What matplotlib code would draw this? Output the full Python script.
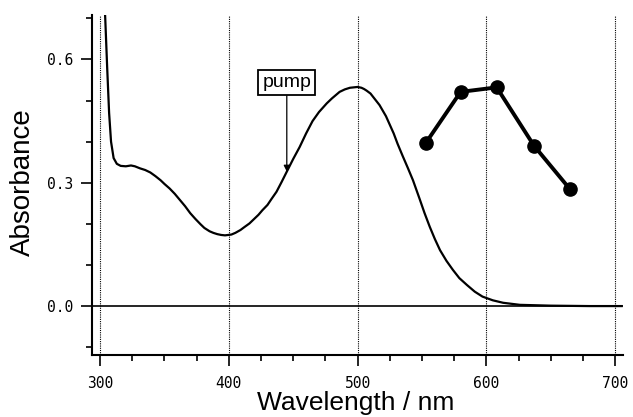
import matplotlib
matplotlib.use("Agg")
import matplotlib.pyplot as plt
from matplotlib.ticker import MultipleLocator

# Absorption spectrum
wavelength = [302.5, 304, 305.5, 307, 308.5, 310.5, 313, 316, 320, 324, 327, 331, 335, 339,
              343, 347, 350, 354, 358, 362, 366, 370, 374, 378, 381, 385, 388, 391, 394, 397,
              402, 405, 409, 412, 416, 419, 423, 426, 430, 433, 437, 441, 445, 450, 455, 460,
              465, 470, 476, 480, 486, 490, 494, 497, 500, 503, 505, 507, 510, 513, 517, 522,
              528, 531, 535, 539, 543, 548, 552, 556, 560, 564, 569, 574, 579, 585, 591, 597,
              605, 613, 626, 650, 680, 705]
absorbance = [0.80, 0.70, 0.58, 0.47, 0.40, 0.36, 0.346, 0.341, 0.340, 0.342, 0.340, 0.335, 0.331, 0.325,
              0.316, 0.306, 0.297, 0.286, 0.273, 0.258, 0.243, 0.226, 0.212, 0.199, 0.190, 0.182, 0.178, 0.175, 0.173, 0.172,
              0.174, 0.178, 0.185, 0.192, 0.201, 0.210, 0.222, 0.233, 0.246, 0.260, 0.278, 0.302, 0.327, 0.358, 0.387, 0.420,
              0.450, 0.472, 0.493, 0.505, 0.521, 0.527, 0.531, 0.532, 0.533, 0.531, 0.528, 0.524, 0.517, 0.505, 0.489, 0.462,
              0.420, 0.395, 0.365, 0.336, 0.306, 0.262, 0.226, 0.193, 0.163, 0.136, 0.110, 0.088, 0.068, 0.051, 0.035, 0.023,
              0.014, 0.008, 0.003, 0.001, 0.0, 0.0]

# Probe points (filled circles)
probe_wl = [553, 580, 608, 637, 665]
probe_abs = [0.397, 0.521, 0.532, 0.390, 0.284]

# Annotation
pump_label = "pump"
pump_wl = 445
pump_abs = 0.327

x_ticks = [300, 400, 500, 600, 700]
y_ticks = [0.0, 0.3, 0.6]

fig = plt.figure(figsize=(6.33, 4.17), dpi=100)
ax = fig.add_axes([0.1449, 0.1487, 0.984 - 0.1449, 0.964 - 0.1487])

ax.set_xlim(293.5, 706)
ax.set_ylim(-0.119, 0.708)

for xv in x_ticks:
    ax.axvline(xv, color="black", lw=0.8, ls=(0, (1, 1)), zorder=1)
ax.axhline(0.0, color="black", lw=1.2, zorder=2)

ax.plot(wavelength, absorbance, color="black", lw=1.6, zorder=3,
        solid_joinstyle="round")
ax.plot(probe_wl, probe_abs, color="black", lw=2.8, marker="o", ms=9.5, zorder=4)

ax.annotate(pump_label, xy=(pump_wl, pump_abs), xytext=(pump_wl, 0.5435),
            ha="center", va="center", fontsize=14, family="Liberation Sans",
            bbox=dict(boxstyle="square,pad=0.2", fc="white", ec="black", lw=1.3),
            arrowprops=dict(arrowstyle="-|>", color="black", lw=0.9,
                            shrinkA=0, shrinkB=0, mutation_scale=9), zorder=5)

for s in ["top", "right"]:
    ax.spines[s].set_visible(False)
for s in ["left", "bottom"]:
    ax.spines[s].set_linewidth(1.5)

ax.set_xticks(x_ticks)
ax.set_yticks(y_ticks)
ax.set_yticklabels([f"{v:.1f}" for v in y_ticks])
ax.xaxis.set_minor_locator(MultipleLocator(25))
ax.yaxis.set_minor_locator(MultipleLocator(0.1))
ax.tick_params(axis="both", which="major", direction="out", length=8, width=1.2,
               labelsize=10.5, pad=5)
ax.tick_params(axis="both", which="minor", direction="out", length=4.5, width=1.2)
ax.tick_params(axis="x", which="major", pad=7)
for lab in ax.get_xticklabels() + ax.get_yticklabels():
    lab.set_family("DejaVu Sans Mono")

fig.text(23 / 633, 1 - 182 / 417, "Absorbance", rotation=90, ha="center", va="center",
         fontsize=20, family="Liberation Sans")
fig.text(356 / 633, 7 / 417, "Wavelength / nm", ha="center", va="baseline",
         fontsize=19, family="Liberation Sans")

fig.savefig("out.png", dpi=100)
